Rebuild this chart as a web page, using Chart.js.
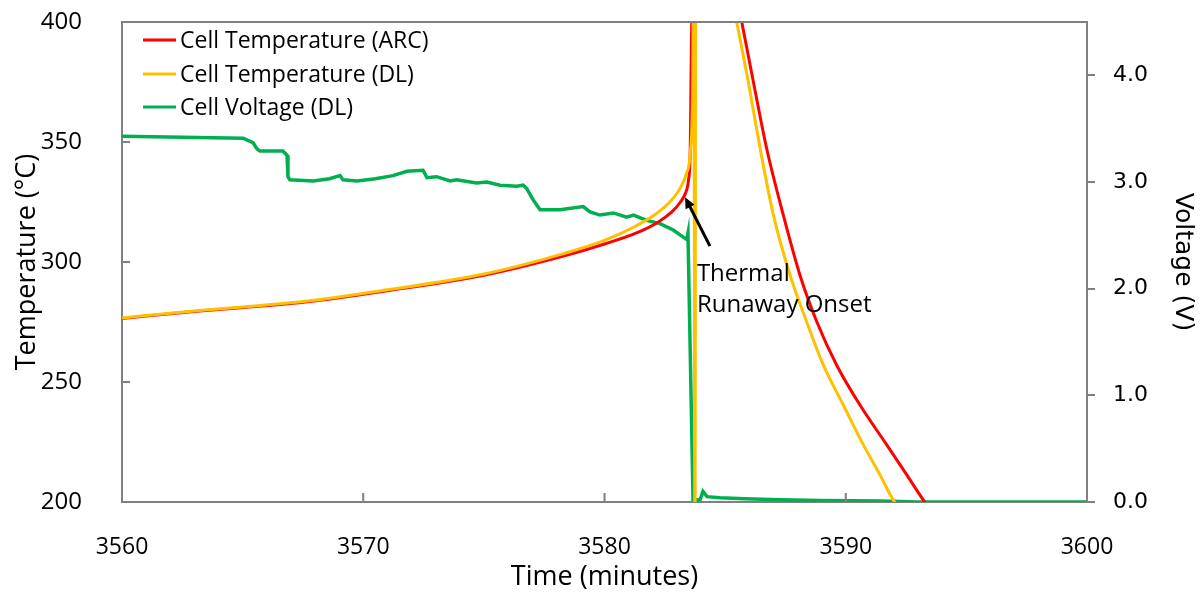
<!DOCTYPE html>
<html>
<head>
<meta charset="utf-8">
<script src="https://cdn.jsdelivr.net/npm/chart.js@4.4.1/dist/chart.umd.min.js"></script>
<style>
  body { margin: 0; background: #fff; }
  #wrap { width: 1203px; height: 596px; }
</style>
</head>
<body>
<div id="wrap"><canvas id="arcChart"></canvas></div>
<script>
// values (time in minutes)
const arcTime = [3560, 3563, 3567.6, 3571, 3575, 3578.3, 3580, 3581.3, 3582.2, 3582.8, 3583.15, 3583.35, 3583.48, 3583.55, 3583.62, 3584.6, 3585.69, 3586.17, 3586.72, 3587.41, 3588.1, 3588.8, 3589.62, 3590.59, 3591.7, 3592.53, 3593.22, 3593.8];
const arcTemp = [276.5, 279.4, 283.3, 288.0, 294.5, 302.5, 307.5, 312, 316.5, 321, 325, 328.5, 334, 345, 400, 460, 400, 375.1, 347.4, 319.6, 294.6, 275.1, 257.1, 240.4, 223.8, 211.3, 200.8, 193];

const dlTime = [3560, 3563, 3567.6, 3571, 3575, 3578.3, 3580, 3581.3, 3582.2, 3582.8, 3583.15, 3583.4, 3583.55, 3583.65, 3583.7, 3583.75, 3583.8, 3584.9, 3585.48, 3585.96, 3586.45, 3587.0, 3587.69, 3588.38, 3589.07, 3589.9, 3590.73, 3591.42, 3591.97, 3592.5];
const dlTemp = [276.7, 279.6, 283.6, 288.4, 295, 303.5, 309, 315, 320.5, 326, 331, 337, 345, 370, 430, 180, 650, 430, 400, 375.1, 347.4, 319.6, 294.6, 275.1, 257.1, 240.4, 223.8, 211.3, 200.8, 193];

const voltTime = [3560, 3565.02, 3565.22, 3565.43, 3565.6, 3565.72, 3566.67, 3566.84, 3566.88, 3566.96, 3567.92, 3568.6, 3569.04, 3569.16, 3569.74, 3570.5, 3571.23, 3571.81, 3572.48, 3572.64, 3573.04, 3573.6, 3573.87, 3574.7, 3575.12, 3575.67, 3576.36, 3576.63, 3576.77, 3577.05, 3577.33, 3578.16, 3579.12, 3579.4, 3579.81, 3580.37, 3580.92, 3581.2, 3581.75, 3582.3, 3582.85, 3583.41, 3583.46, 3583.67, 3583.96, 3584.08, 3584.25, 3584.79, 3585.8, 3587.27, 3589, 3591.42, 3593, 3600];
const volt = [3.43, 3.41, 3.39, 3.37, 3.31, 3.29, 3.29, 3.25, 3.05, 3.02, 3.01, 3.03, 3.06, 3.02, 3.01, 3.03, 3.06, 3.10, 3.11, 3.04, 3.05, 3.01, 3.02, 2.99, 3.00, 2.97, 2.96, 2.97, 2.94, 2.83, 2.74, 2.74, 2.77, 2.72, 2.69, 2.71, 2.67, 2.69, 2.64, 2.61, 2.55, 2.46, 2.52, 0.02, 0.02, 0.10, 0.05, 0.04, 0.03, 0.02, 0.015, 0.01, 0.0, 0.0];

const tempTicks = [200, 250, 300, 350, 400];
const voltTicks = [0, 1, 2, 3, 4];
const timeTicks = [3560, 3570, 3580, 3590, 3600];

const seriesNames = ['Cell Temperature (ARC)', 'Cell Temperature (DL)', 'Cell Voltage (DL)'];
const seriesColors = ['#FF0000', '#FFC000', '#00B050'];

const axisGray = '#808080';
const mainFont = "'Open Sans', sans-serif";

function pairs(xs, ys) {
    return xs.map((x, i) => ({ x: x, y: ys[i] }));
}

function noEdgePadding(s) {
    s.paddingTop = 0;
    s.paddingBottom = 0;
    s.paddingLeft = 0;
    s.paddingRight = 0;
}

// inward tick marks, box top edge, legend and the onset arrow
const decorPlugin = {
    id: 'decor',
    afterDraw(chart) {
        const ctx = chart.ctx;
        const a = chart.chartArea;
        const xs = chart.scales.x;
        const ys = chart.scales.y;
        ctx.save();
        ctx.strokeStyle = axisGray;
        ctx.lineWidth = 2;
        ctx.beginPath();
        ctx.moveTo(a.left - 1, a.top);
        ctx.lineTo(a.right + 1, a.top);
        ctx.stroke();
        ctx.beginPath();
        tempTicks.forEach(v => {
            const y = ys.getPixelForValue(v);
            ctx.moveTo(a.left, y);
            ctx.lineTo(a.left + 8, y);
        });
        timeTicks.forEach(v => {
            const x = xs.getPixelForValue(v);
            ctx.moveTo(x, a.bottom);
            ctx.lineTo(x, a.bottom - 9);
        });
        ctx.stroke();

        // legend
        ctx.font = '23px ' + mainFont;
        ctx.textBaseline = 'middle';
        ctx.textAlign = 'left';
        const rows = [40, 74, 107];
        seriesNames.forEach((name, i) => {
            ctx.strokeStyle = seriesColors[i];
            ctx.lineWidth = 3;
            ctx.beginPath();
            ctx.moveTo(143, rows[i]);
            ctx.lineTo(176, rows[i]);
            ctx.stroke();
            ctx.fillStyle = '#000';
            ctx.fillText(name, 180, rows[i] + 1);
        });

        // arrow to the onset point
        const tipX = xs.getPixelForValue(3583.34);
        const tipY = ys.getPixelForValue(327);
        const tailX = xs.getPixelForValue(3584.37);
        const tailY = ys.getPixelForValue(306.6);
        const ang = Math.atan2(tipY - tailY, tipX - tailX);
        ctx.strokeStyle = '#000';
        ctx.fillStyle = '#000';
        ctx.lineWidth = 3;
        ctx.beginPath();
        ctx.moveTo(tailX, tailY);
        ctx.lineTo(tipX - 6 * Math.cos(ang), tipY - 6 * Math.sin(ang));
        ctx.stroke();
        ctx.beginPath();
        ctx.moveTo(tipX, tipY);
        ctx.lineTo(tipX - 11 * Math.cos(ang) + 5 * Math.sin(ang), tipY - 11 * Math.sin(ang) - 5 * Math.cos(ang));
        ctx.lineTo(tipX - 11 * Math.cos(ang) - 5 * Math.sin(ang), tipY - 11 * Math.sin(ang) + 5 * Math.cos(ang));
        ctx.closePath();
        ctx.fill();

        ctx.font = '24px ' + mainFont;
        ctx.textBaseline = 'alphabetic';
        const tx = xs.getPixelForValue(3583.83);
        ctx.fillText('Thermal', tx, ys.getPixelForValue(292));
        ctx.fillText('Runaway Onset', tx, ys.getPixelForValue(279));
        ctx.restore();
    }
};

const ctx = document.getElementById('arcChart').getContext('2d');
new Chart(ctx, {
    type: 'line',
    data: {
        datasets: [{
            label: seriesNames[0],
            data: pairs(arcTime, arcTemp),
            borderColor: seriesColors[0],
            borderWidth: 3,
            cubicInterpolationMode: 'monotone',
            yAxisID: 'y',
            order: 2
        }, {
            label: seriesNames[1],
            data: pairs(dlTime, dlTemp),
            borderColor: seriesColors[1],
            borderWidth: 3,
            cubicInterpolationMode: 'monotone',
            yAxisID: 'y',
            order: 1
        }, {
            label: seriesNames[2],
            data: pairs(voltTime, volt),
            borderColor: seriesColors[2],
            borderWidth: 3.5,
            yAxisID: 'y1',
            order: 3
        }]
    },
    options: {
        responsive: true,
        maintainAspectRatio: false,
        animation: false,
        layout: { padding: { top: 22 } },
        elements: { point: { radius: 0 }, line: { tension: 0 } },
        plugins: { legend: { display: false }, tooltip: { enabled: false } },
        scales: {
            x: {
                type: 'linear',
                min: 3560,
                max: 3600,
                afterBuildTicks: s => { s.ticks = timeTicks.map(v => ({ value: v })); },
                ticks: { color: '#000', font: { family: mainFont, size: 23 }, padding: 24, maxRotation: 0, callback: v => String(v) },
                grid: { display: false },
                border: { color: axisGray, width: 2 },
                title: { display: true, text: 'Time (minutes)', color: '#000', font: { family: mainFont, size: 27 }, padding: { top: 0, bottom: 2 } },
                afterFit: s => { noEdgePadding(s); s.height = 94; }
            },
            y: {
                position: 'left',
                min: 200,
                max: 400,
                afterBuildTicks: s => { s.ticks = tempTicks.map(v => ({ value: v })); },
                ticks: { color: '#000', font: { family: mainFont, size: 24 }, padding: 32, callback: v => String(v) },
                grid: { display: false },
                border: { color: axisGray, width: 2 },
                title: { display: true, text: 'Temperature (°C)', color: '#000', font: { family: mainFont, size: 27 }, padding: { top: 11, bottom: 0 } },
                afterFit: s => { noEdgePadding(s); s.width = 122; }
            },
            y1: {
                position: 'right',
                min: 0,
                max: 4.5,
                afterBuildTicks: s => { s.ticks = voltTicks.map(v => ({ value: v })); },
                ticks: { color: '#000', font: { family: 'DejaVu Sans', size: 22 }, padding: 18, callback: v => v.toFixed(1) },
                grid: { display: true, drawOnChartArea: false, drawTicks: true, tickLength: 8, color: axisGray, lineWidth: 2 },
                border: { color: axisGray, width: 2 },
                title: { display: true, text: 'Voltage (V)', color: '#000', font: { family: 'DejaVu Sans', size: 25 }, padding: { top: 6, bottom: 0 } },
                afterFit: s => { noEdgePadding(s); s.width = 116; }
            }
        }
    },
    plugins: [decorPlugin]
});
</script>
</body>
</html>
